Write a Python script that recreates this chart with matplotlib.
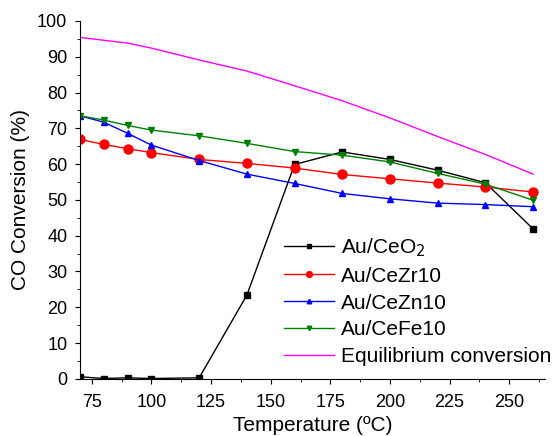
import numpy as np
import matplotlib.pyplot as plt
from matplotlib.ticker import MultipleLocator

plt.rcParams['font.family'] = ['Liberation Sans', 'DejaVu Sans']

# --- Data ---
temps = [70, 80, 90, 100, 120, 140, 160, 180, 200, 220, 240, 260]
ceo2 = [0.6, 0.1, 0.3, 0.1, 0.3, 23.4, 59.9, 63.4, 61.3, 58.3, 54.8, 41.9]
cezr10 = [66.9, 65.5, 64.3, 63.2, 61.3, 60.2, 58.9, 57.1, 55.9, 54.7, 53.6, 52.2]
cezn10 = [73.5, 71.7, 68.6, 65.3, 61.0, 57.2, 54.6, 51.8, 50.3, 49.1, 48.7, 48.1]
cefe10 = [73.5, 72.3, 70.8, 69.5, 67.9, 65.8, 63.5, 62.5, 60.6, 57.4, 54.4, 49.9]

eq_temps = [70, 90, 100, 120, 140, 160, 180, 200, 220, 240, 260]
equilibrium = [95.4, 93.8, 92.4, 89.1, 86.0, 81.9, 77.7, 72.9, 67.7, 62.7, 57.2]

fig = plt.figure(figsize=(5.55, 4.36), dpi=100)
ax = fig.add_axes([0.144, 0.131, 0.838, 0.821])

ax.plot(temps, ceo2, color='black', marker='s', markersize=5, lw=1, label='Au/CeO$_2$')
ax.plot(temps, cezr10, color='red', marker='o', markersize=6.5, lw=1, label='Au/CeZr10')
ax.plot(temps, cezn10, color='blue', marker='^', markersize=5, lw=1, label='Au/CeZn10')
ax.plot(temps, cefe10, color='green', marker='v', markersize=5, lw=1, label='Au/CeFe10')
ax.plot(eq_temps, equilibrium, color='magenta', lw=1, label='Equilibrium conversion')

ax.set_xlim(70, 265)
ax.set_ylim(0, 100)
ax.xaxis.set_major_locator(MultipleLocator(25))
ax.xaxis.set_minor_locator(MultipleLocator(12.5))
ax.yaxis.set_major_locator(MultipleLocator(10))
ax.yaxis.set_minor_locator(MultipleLocator(5))
ax.set_xticks([75, 100, 125, 150, 175, 200, 225, 250])

ax.spines['top'].set_visible(False)
ax.spines['right'].set_visible(False)
ax.tick_params(which='both', direction='out', labelsize=13)
ax.tick_params(axis='x', which='both', pad=7)
ax.tick_params(axis='y', which='both', pad=5.5)
ax.tick_params(which='major', length=3.6)
ax.tick_params(which='minor', length=2.4)

ax.set_xlabel('Temperature (ºC)', fontsize=15, labelpad=4)
ax.set_ylabel('CO Conversion (%)', fontsize=15, labelpad=5)

ax.legend(loc='lower right', bbox_to_anchor=(1.04, 0.0), frameon=False, fontsize=15,
          numpoints=1, markerscale=0.65, handlelength=2.4, handletextpad=0.3,
          labelspacing=0.38, borderpad=0.1)

fig.savefig('out.png', dpi=100)
